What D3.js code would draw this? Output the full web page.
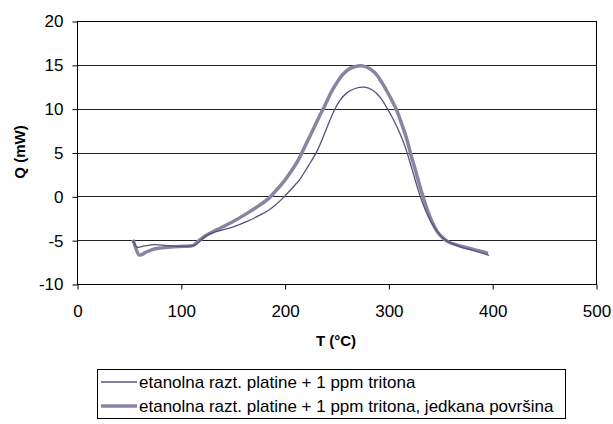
<!DOCTYPE html>
<html><head><meta charset="utf-8">
<script src="https://cdn.jsdelivr.net/npm/d3@7"></script>
<style>body{margin:0;background:#fff}svg{display:block}text{font-family:"Liberation Sans",Arial,sans-serif}</style>
</head><body><svg id="c" width="613" height="424"></svg>
<script>
const xTicks=[0,100,200,300,400,500];
const yTicks=[-10,-5,0,5,10,15,20];
const seriesNames=["etanolna razt. platine + 1 ppm tritona","etanolna razt. platine + 1 ppm tritona, jedkana površina"];
const thinT=[54,58,65,75,85,95,105,113,118,125,135,150,165,176,185,192,200,207,215,223,231,240,247,253,260,268,277,285,292,298,305,311,316,321,325,329,333,338,344,350,356,362,370,380,390,397];
const thinQ=[-5.0,-5.8,-5.65,-5.5,-5.6,-5.7,-5.7,-5.6,-5.15,-4.45,-4.0,-3.5,-2.8,-2.15,-1.55,-0.9,0.0,0.9,2.0,3.5,5.1,7.6,9.6,10.9,11.8,12.3,12.45,12.1,11.3,10.2,8.7,7.2,5.7,3.8,2.2,0.6,-0.8,-2.2,-3.5,-4.45,-5.05,-5.4,-5.8,-6.1,-6.45,-6.75];
const thickT=[54,57,60,66,72,77,85,93,103,112,118,125,135,150,163,176,185,192,200,206,213,220,227,233,239,245,250,256,263,270,274,280,287,292,300,308,313,318,322,326,330,334,338,342,347,353,358,362,370,380,390,396];
const thickQ=[-4.95,-6.0,-6.7,-6.4,-6.1,-5.95,-5.85,-5.75,-5.7,-5.6,-5.0,-4.4,-3.8,-2.9,-2.0,-1.0,-0.2,0.7,1.8,2.8,4.1,5.8,7.5,9.0,10.4,11.9,12.9,13.9,14.6,14.85,14.9,14.7,14.1,13.3,11.7,9.8,8.2,6.4,4.6,3.0,1.3,-0.3,-1.7,-2.9,-4.0,-4.8,-5.2,-5.4,-5.7,-6.0,-6.3,-6.5];

const svg=d3.select("#c");
const L=77,T=21,W=519,H=263;
const x=d3.scaleLinear().domain([0,500]).range([L,L+W]);
const y=d3.scaleLinear().domain([-10,20]).range([T+H,T]);

svg.append("g").selectAll("line").data(yTicks.filter(v=>v>-10&&v<20)).join("line")
  .attr("x1",L).attr("x2",L+W).attr("y1",d=>Math.round(y(d))+0.5).attr("y2",d=>Math.round(y(d))+0.5)
  .attr("stroke","#222").attr("stroke-width",1);
svg.append("rect").attr("x",L+0.5).attr("y",T+0.5).attr("width",W).attr("height",H)
  .attr("fill","none").attr("stroke","#000").attr("stroke-width",1);

const fmt=d=>String(d);
const xa=svg.append("g").attr("transform",`translate(0.5,${T+H+0.5})`)
  .call(d3.axisBottom(x).tickValues(xTicks).tickSize(5).tickPadding(15).tickFormat(fmt));
const ya=svg.append("g").attr("transform",`translate(${L+0.5},0.5)`)
  .call(d3.axisLeft(y).tickValues(yTicks).tickSize(5).tickPadding(9).tickFormat(fmt));
[xa,ya].forEach(a=>{a.select(".domain").remove();a.selectAll("line").attr("stroke","#000");
  a.selectAll("text").attr("font-size",17).attr("fill","#000").style("font-family","Liberation Sans, Arial, sans-serif");});

const line=d3.line().x(d=>x(d[0])).y(d=>y(d[1])).curve(d3.curveCatmullRom.alpha(0.5));
const thin=thinT.map((t,i)=>[t,thinQ[i]]);
const thick=thickT.map((t,i)=>[t,thickQ[i]]);
svg.append("path").datum(thick).attr("d",line).attr("fill","none").attr("stroke","#8c83a3").attr("stroke-width",3.5).attr("stroke-linejoin","round");
svg.append("path").datum(thin).attr("d",line).attr("fill","none").attr("stroke","#5a4f7c").attr("stroke-width",1.3);

svg.append("text").attr("x",336).attr("y",346).attr("text-anchor","middle").attr("font-size",15).attr("font-weight","bold").text("T (°C)");
svg.append("text").attr("transform","translate(25,152) rotate(-90)").attr("text-anchor","middle").attr("font-size",15).attr("font-weight","bold").text("Q (mW)");

const lg=svg.append("g");
lg.append("rect").attr("x",97.5).attr("y",369.5).attr("width",468).attr("height",49).attr("fill","#fff").attr("stroke","#000");
const styles=[{c:"#5a4f7c",w:1.3},{c:"#8c83a3",w:3.5}];
seriesNames.forEach((n,i)=>{
  const yy=382+i*24;
  lg.append("line").attr("x1",101).attr("x2",137).attr("y1",yy).attr("y2",yy).attr("stroke",styles[i].c).attr("stroke-width",styles[i].w);
  lg.append("text").attr("x",139).attr("y",yy+6).attr("font-size",17).text(n);
});
</script></body></html>
